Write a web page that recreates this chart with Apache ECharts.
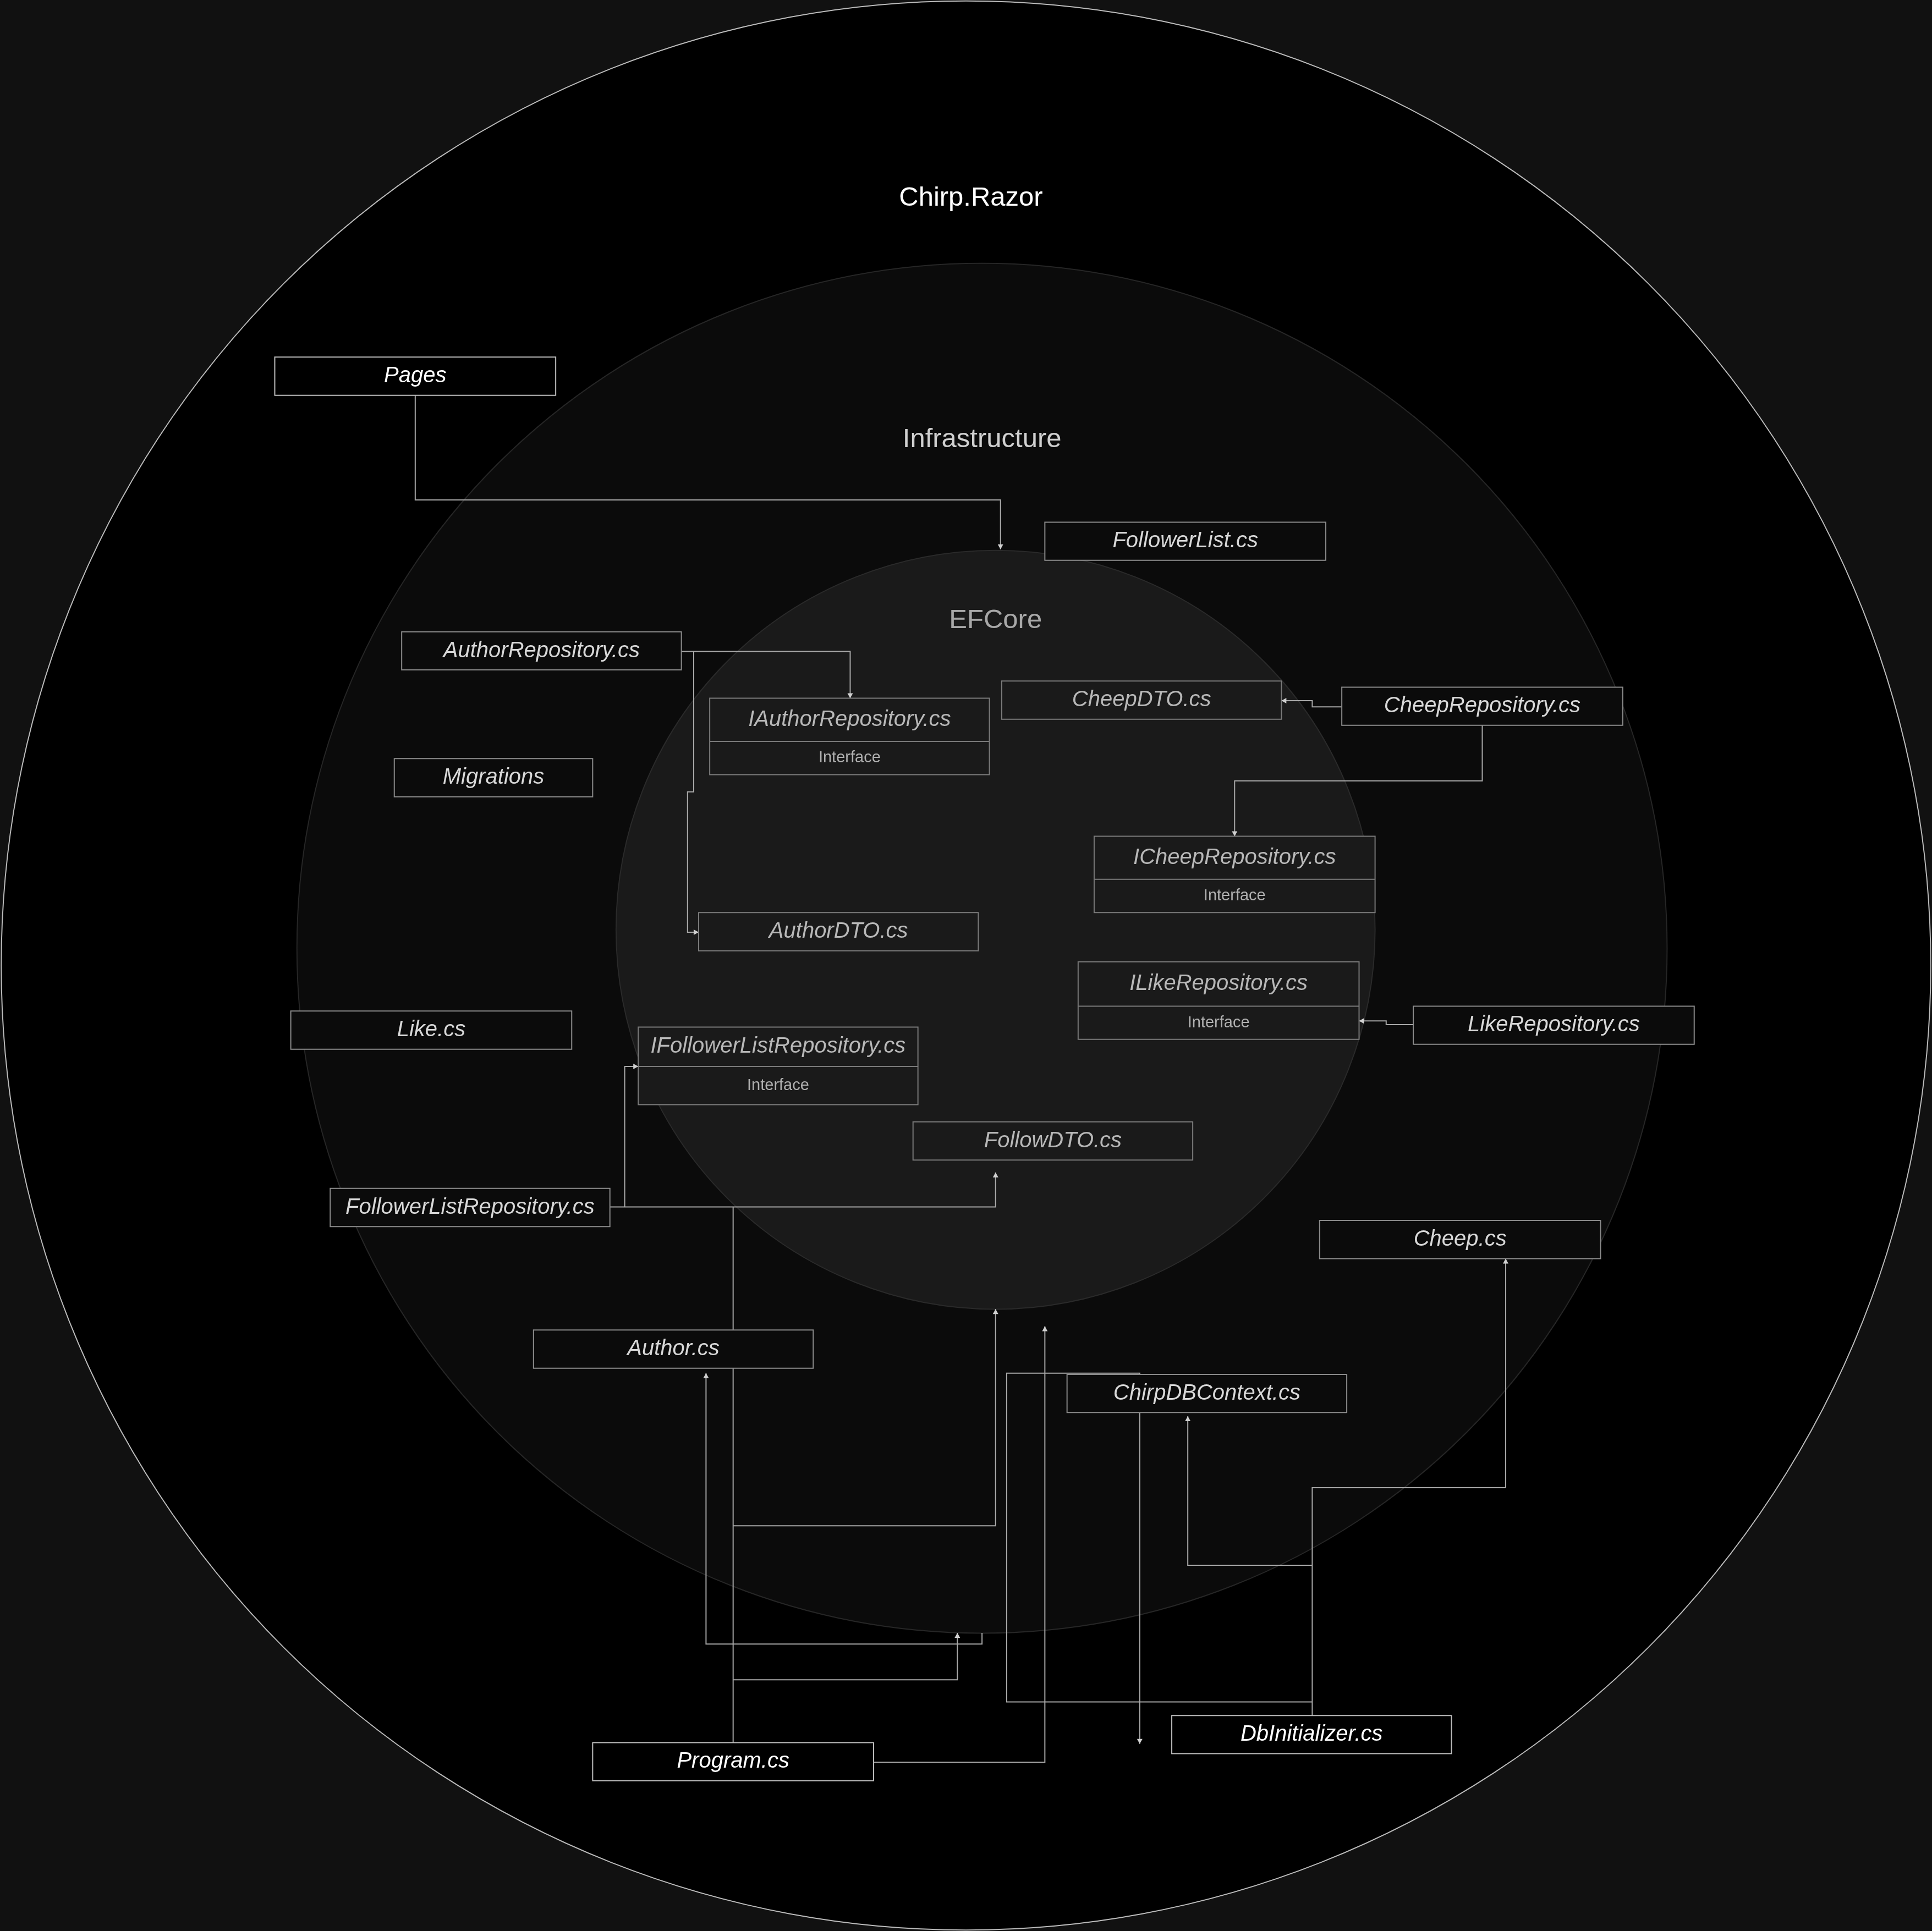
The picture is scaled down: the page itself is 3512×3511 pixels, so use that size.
<!DOCTYPE html>
<html><head><meta charset="utf-8">
<script src="https://cdn.jsdelivr.net/npm/echarts@6/dist/echarts.min.js"></script>
<style>html,body{margin:0;padding:0;background:#111;}#c{width:3512px;height:3511px;}</style>
</head><body><div id="c"></div>
<script>
// Layers: [cx, cy, r, fill, stroke, title, titleY, titleColor]
const layers = [
  [784, 784, 783, '#000000', '#bbbbbb', 'Chirp.Razor', 161, '#ffffff'],
  [797, 770, 556, '#0b0b0b', '#262626', 'Infrastructure', 357, '#d0d0d0'],
  [808, 755, 308, '#1a1a1a', '#2a2a2a', 'EFCore', 504, '#a8a8a8']
];
// Boxes: [x1, y1, x2, y2, label, tier, dividerY or null]
const boxes = [
  [223, 290, 451, 321, 'Pages', 0, null],
  [848, 424, 1076, 455, 'FollowerList.cs', 1, null],
  [326, 513, 553, 544, 'AuthorRepository.cs', 1, null],
  [576, 567, 803, 629, 'IAuthorRepository.cs', 2, 602],
  [813, 553, 1040, 584, 'CheepDTO.cs', 2, null],
  [1089, 558, 1317, 589, 'CheepRepository.cs', 1, null],
  [320, 616, 481, 647, 'Migrations', 1, null],
  [888, 679, 1116, 741, 'ICheepRepository.cs', 2, 714],
  [567, 741, 794, 772, 'AuthorDTO.cs', 2, null],
  [875, 781, 1103, 844, 'ILikeRepository.cs', 2, 817],
  [1147, 817, 1375, 848, 'LikeRepository.cs', 1, null],
  [236, 821, 464, 852, 'Like.cs', 1, null],
  [518, 834, 745, 897, 'IFollowerListRepository.cs', 2, 866],
  [741, 911, 968, 942, 'FollowDTO.cs', 2, null],
  [268, 965, 495, 996, 'FollowerListRepository.cs', 1, null],
  [1071, 991, 1299, 1022, 'Cheep.cs', 1, null],
  [433, 1080, 660, 1111, 'Author.cs', 1, null],
  [866, 1116, 1093, 1147, 'ChirpDBContext.cs', 1, null],
  [951, 1393, 1178, 1424, 'DbInitializer.cs', 0, null],
  [481, 1415, 709, 1446, 'Program.cs', 0, null]
];
const interfaceLabel = 'Interface';
// Connectors: [points, hasArrow]
const connectors = [
  [[[337,321],[337,406],[812,406],[812,446]], true],
  [[[553,529],[690,529],[690,567]], true],
  [[[563,529],[563,643],[558,643],[558,757],[567,757]], true],
  [[[1089,574],[1065,574],[1065,569],[1040,569]], true],
  [[[1203,589],[1203,634],[1002,634],[1002,679]], true],
  [[[1147,832],[1125,832],[1125,829],[1103,829]], true],
  [[[495,980],[808,980],[808,952]], true],
  [[[507,980],[507,866],[518,866]], true],
  [[[595,1415],[595,980]], false],
  [[[595,1239],[808,1239],[808,1063]], true],
  [[[595,1364],[777,1364],[777,1326]], true],
  [[[709,1431],[848,1431],[848,1077]], true],
  [[[797,1326],[797,1335],[573,1335],[573,1115]], true],
  [[[1065,1393],[1065,1208],[1222,1208],[1222,1022]], true],
  [[[1065,1271],[964,1271],[964,1150]], true],
  [[[1065,1382],[817,1382],[817,1115],[925,1115],[925,1416]], true]
];
const tierFill = ['#000000', '#0b0b0b', '#1a1a1a'];
const tierText = ['#ffffff', '#d8d8d8', '#b8b8b8'];
const tierStroke = ['#bbbbbb', '#8a8a8a', '#7a7a7a'];
const S = 3512 / 1568;

const chart = echarts.init(document.getElementById('c'));
chart.setOption({
  backgroundColor: '#111111',
  animation: false,
  grid: {left: 0, right: 0, top: 0, bottom: 0},
  xAxis: {type: 'value', min: 0, max: 1568, show: false},
  yAxis: {type: 'value', min: 0, max: 1568, inverse: true, show: false},
  series: [
    {
      type: 'custom', coordinateSystem: 'cartesian2d', z: 1,
      data: layers.map((l, i) => [l[0], l[1], i]),
      renderItem: function (params, api) {
        const l = layers[api.value(2)];
        const c = api.coord([l[0], l[1]]);
        const r = api.size([l[2], 0])[0];
        const t = api.coord([l[0], l[6]]);
        return {type: 'group', children: [
          {type: 'circle', shape: {cx: c[0], cy: c[1], r: r}, style: {fill: l[3], stroke: l[4], lineWidth: 2}},
          {type: 'text', z2: 5, style: {text: l[5], x: c[0] + (l[0] === 784 ? 4 * S : 6 * S - 6 * S), y: t[1], fill: l[7], font: Math.round(22 * S) + 'px "Liberation Sans", Arial', align: 'center', verticalAlign: 'middle'}}
        ]};
      }
    },
    {
      type: 'custom', coordinateSystem: 'cartesian2d', z: 3,
      data: connectors.map((c, i) => [c[0][0][0], c[0][0][1], i]),
      renderItem: function (params, api) {
        const cn = connectors[api.value(2)];
        const pts = cn[0].map(p => api.coord(p));
        const children = [{type: 'polyline', shape: {points: pts}, style: {stroke: '#a8a8a8', lineWidth: 2, fill: null}}];
        if (cn[1]) {
          const a = pts[pts.length - 1], b = pts[pts.length - 2];
          const dx = a[0] - b[0], dy = a[1] - b[1], len = Math.hypot(dx, dy);
          const ux = dx / len, uy = dy / len, s = 9, w = 5;
          children.push({type: 'polygon', shape: {points: [[a[0], a[1]], [a[0] - ux * s - uy * w, a[1] - uy * s + ux * w], [a[0] - ux * s + uy * w, a[1] - uy * s - ux * w]]}, style: {fill: '#d0d0d0'}});
        }
        return {type: 'group', children: children};
      }
    },
    {
      type: 'custom', coordinateSystem: 'cartesian2d', z: 4,
      data: boxes.map((b, i) => [b[0], b[1], i]),
      renderItem: function (params, api) {
        const b = boxes[api.value(2)];
        const p1 = api.coord([b[0], b[1]]), p2 = api.coord([b[2], b[3]]);
        const tier = b[5];
        const children = [{type: 'rect', shape: {x: p1[0], y: p1[1], width: p2[0] - p1[0], height: p2[1] - p1[1]}, style: {fill: tierFill[tier], stroke: tierStroke[tier], lineWidth: 2}}];
        const cx = (p1[0] + p2[0]) / 2;
        const font = 'italic ' + Math.round(18 * S) + 'px "Liberation Sans", Arial';
        if (b[6] != null) {
          const d = api.coord([b[0], b[6]]);
          children.push({type: 'line', shape: {x1: p1[0], y1: d[1], x2: p2[0], y2: d[1]}, style: {stroke: tierStroke[tier], lineWidth: 2}});
          children.push({type: 'text', style: {text: b[4], x: cx, y: (p1[1] + d[1]) / 2, fill: tierText[tier], font: font, align: 'center', verticalAlign: 'middle'}});
          children.push({type: 'text', style: {text: interfaceLabel, x: cx, y: (d[1] + p2[1]) / 2, fill: '#b0b0b0', font: Math.round(13 * S) + 'px "Liberation Sans", Arial', align: 'center', verticalAlign: 'middle'}});
        } else {
          children.push({type: 'text', style: {text: b[4], x: cx, y: (p1[1] + p2[1]) / 2, fill: tierText[tier], font: font, align: 'center', verticalAlign: 'middle'}});
        }
        return {type: 'group', children: children};
      }
    }
  ]
});
</script></body></html>
